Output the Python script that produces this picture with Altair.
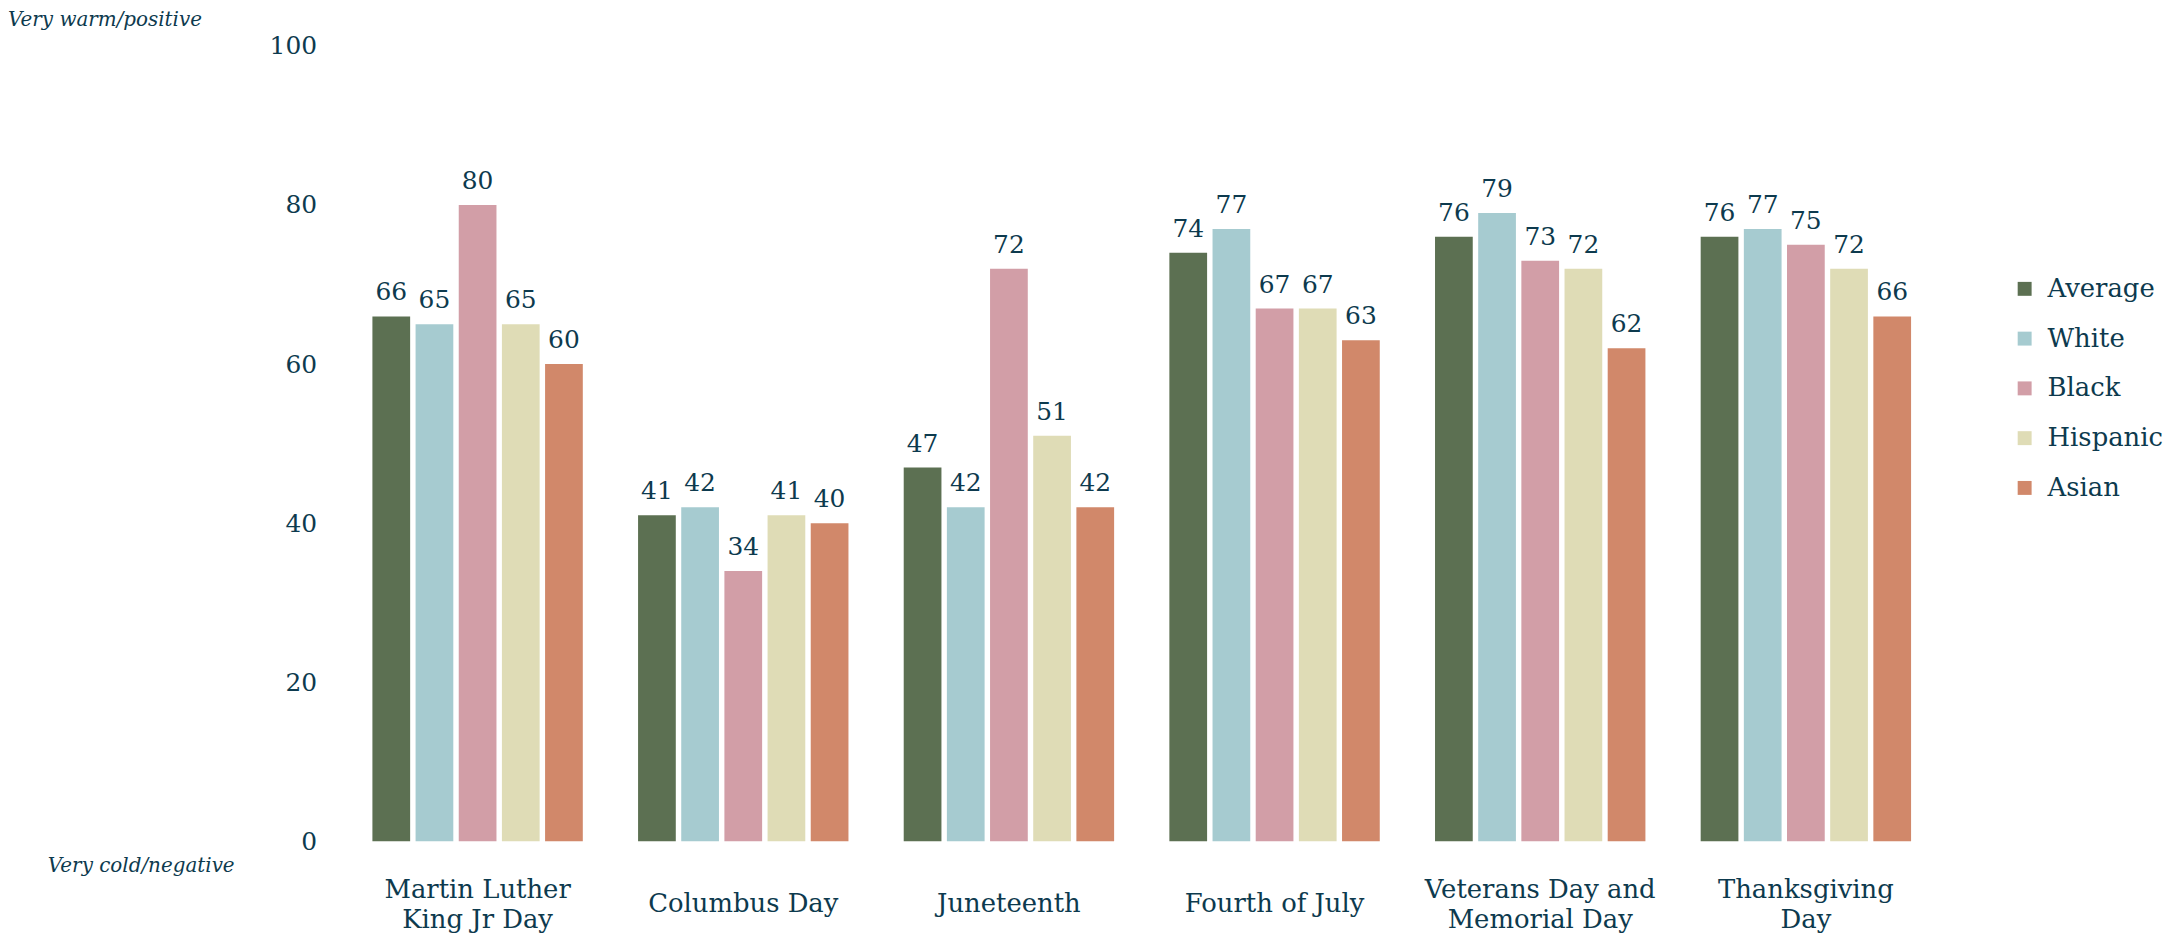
import altair as alt
import pandas as pd

# ---- data ----
holidays = [
    "Martin Luther|King Jr Day",
    "Columbus Day",
    "Juneteenth",
    "Fourth of July",
    "Veterans Day and|Memorial Day",
    "Thanksgiving|Day",
]
groups = ["Average", "White", "Black", "Hispanic", "Asian"]
average = [66, 41, 47, 74, 76, 76]
white = [65, 42, 42, 77, 79, 77]
black = [80, 34, 72, 67, 73, 75]
hispanic = [65, 41, 51, 67, 72, 72]
asian = [60, 40, 42, 63, 62, 66]
colors = ["#5c7052", "#a6cbd0", "#d29ea7", "#dfdcb6", "#d1886a"]
y_ticks = [0, 20, 40, 60, 80, 100]
top_note = "Very warm/positive"
bottom_note = "Very cold/negative"

series = [average, white, black, hispanic, asian]
rows = []
for g, vals in zip(groups, series):
    for h, v in zip(holidays, vals):
        rows.append({"holiday": h, "group": g, "value": v})
df = pd.DataFrame(rows)

FONT = "DejaVu Serif"
TXT = "#0d3a4e"

# one-line labels sit half a line lower so they are centred on two-line ones
label_baseline = {
    "condition": {"test": "indexof(datum.value, '|') < 0", "value": "line-top"},
    "value": "middle",
}

x_enc = alt.X(
    "holiday:N",
    sort=holidays,
    scale=alt.Scale(paddingInner=0.208, paddingOuter=0.154),
    axis=alt.Axis(
        title=None,
        labelExpr="split(datum.label, '|')",
        labelAngle=0,
        labelBaseline=label_baseline,
        labelPadding=48,
        labelLineHeight=31,
        labelFont=FONT,
        labelFontSize=26,
        labelColor=TXT,
        ticks=False,
        tickSize=0,
        domain=False,
        labelLimit=500,
    ),
)
xoff_enc = alt.XOffset(
    "group:N", sort=groups, scale=alt.Scale(paddingInner=0.126, paddingOuter=0)
)
y_enc = alt.Y(
    "value:Q",
    scale=alt.Scale(domain=[0, 100]),
    axis=alt.Axis(
        values=y_ticks,
        title=None,
        grid=False,
        domain=False,
        ticks=False,
        tickSize=0,
        labelPadding=15,
        labelFont=FONT,
        labelFontSize=25,
        labelColor=TXT,
    ),
)

base = alt.Chart(df).encode(x=x_enc, xOffset=xoff_enc)

bars = base.mark_bar().encode(
    y=y_enc,
    color=alt.Color(
        "group:N",
        sort=groups,
        scale=alt.Scale(domain=groups, range=colors),
        legend=alt.Legend(
            title=None,
            orient="none",
            legendX=1688,
            legendY=231,
            symbolType="square",
            symbolSize=196,
            symbolStrokeWidth=0,
            symbolOpacity=1,
            labelFont=FONT,
            labelFontSize=26,
            labelColor=TXT,
            labelOffset=10,
            rowPadding=24,
            padding=0,
        ),
    ),
)

labels = base.mark_text(
    baseline="middle", dy=-24, font=FONT, fontSize=25, color=TXT
).encode(y=alt.Y("value:Q"), text=alt.Text("value:Q"))

note_top = alt.Chart(pd.DataFrame({"t": [top_note]})).mark_text(
    align="left", baseline="middle", dy=-26, font=FONT, fontSize=20,
    fontStyle="italic", color=TXT,
).encode(x=alt.value(-325), y=alt.datum(100), text="t:N")

note_bottom = alt.Chart(pd.DataFrame({"t": [bottom_note]})).mark_text(
    align="left", baseline="middle", dy=25, font=FONT, fontSize=20,
    fontStyle="italic", color=TXT,
).encode(x=alt.value(-285), y=alt.datum(0), text="t:N")

chart = (
    alt.layer(bars, labels, note_top, note_bottom)
    .properties(width=1628, height=799, padding=0, background="white")
    .configure_view(stroke=None)
)

chart.save("out.html", embed_options={"renderer": "svg", "actions": False})
